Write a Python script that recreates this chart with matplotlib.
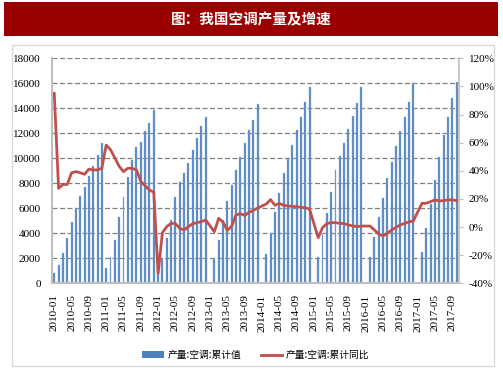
import numpy as np
import pandas as pd
import matplotlib
matplotlib.use('Agg')
from matplotlib import pyplot as plt
from matplotlib.patches import Rectangle, Patch
from matplotlib.lines import Line2D

nan = np.nan

# monthly categories 2010-01 .. 2017-10
months = [p.strftime('%Y-%m') for p in pd.period_range('2010-01', '2017-10', freq='M')]

# 产量:空调:累计值 (万台), January not published from 2013 on
output_2010 = [800, 1500, 2400, 3600, 4900, 6000, 7000, 7700, 8600, 9400, 10300, 11200]
output_2011 = [1200, 2100, 3500, 5300, 6900, 8500, 9850, 10900, 11300, 12150, 12850, 13900]
output_2012 = [850, 2000, 3600, 5100, 6900, 8100, 8850, 9650, 10700, 11600, 12600, 13300]
output_2013 = [nan, 2000, 3500, 5070, 6620, 7860, 9060, 10080, 11200, 12260, 13030, 14330]
output_2014 = [nan, 2340, 4000, 5730, 7200, 8850, 10000, 11060, 12260, 13330, 14480, 15680]
output_2015 = [nan, 2080, 3920, 5650, 7300, 9070, 10200, 11200, 12380, 13350, 14450, 15670]
output_2016 = [nan, 2130, 3730, 5330, 6800, 8400, 9730, 10980, 12180, 13300, 14480, 16050]
output_2017 = [nan, 2500, 4450, 6340, 8260, 10130, 11860, 13330, 14800, 16100]

# 产量:空调:累计同比 (%)
yoy_2010 = [95, 27.5, 30.3, 30.3, 38.6, 39.4, 38.6, 37.5, 41.2, 40.6, 40.6, 41.8]
yoy_2011 = [58.3, 55, 49.2, 43.2, 39.4, 41.8, 41.8, 40.6, 32.5, 29.3, 26.3, 24.8]
yoy_2012 = [-33, -4, 0.3, 2.7, 2.4, -0.9, -2.1, 0.3, 2.4, 3.1, 3.8, 5]
yoy_2013 = [nan, -3.3, 6.2, 3.5, -2.3, 0.5, 8.6, 9.5, 8.3, 10.3, 11.8, 13.5]
yoy_2014 = [nan, 16.4, 19.5, 15.5, 16.8, 15.5, 15, 14.7, 14.5, 14, 13.8, 12.8]
yoy_2015 = [nan, -7.6, -0.5, 2.5, 3.1, 3.1, 2.7, 2.4, 1.5, 0.8, 0.3, 0.7]
yoy_2016 = [nan, 0.7, -2.1, -5, -6.3, -4.4, -2.1, -0.2, 1.5, 2.7, 3.6, 4.5]
yoy_2017 = [nan, 16.9, 16.9, 18.1, 19.3, 18.6, 18.8, 19.3, 19.3, 18.8]

output = np.array(output_2010 + output_2011 + output_2012 + output_2013 +
                  output_2014 + output_2015 + output_2016 + output_2017, dtype=float)
yoy = np.array(yoy_2010 + yoy_2011 + yoy_2012 + yoy_2013 +
               yoy_2014 + yoy_2015 + yoy_2016 + yoy_2017, dtype=float)

bar_color = '#4F81BD'
line_color = '#C0504D'
serif = 'Liberation Serif'
cjk = ['Noto Sans CJK SC', 'DejaVu Sans']

W, H = 503, 378
fig = plt.figure(figsize=(W / 100, H / 100), dpi=100)

# title banner and chart frame (behind the axes)
fig.patches.append(Rectangle((4 / W, 1 - 36 / H), 494 / W, 34 / H, transform=fig.transFigure,
                             facecolor='#9A0000', edgecolor='none', zorder=-2))
fig.patches.append(Rectangle((12 / W, 1 - 366 / H), 482 / W, 321 / H, transform=fig.transFigure,
                             facecolor='none', edgecolor='#d9d9d9', linewidth=1, zorder=-2))
fig.text(251.5 / W, 1 - 19.5 / H, '图：我国空调产量及增速', color='white', fontsize=10.5,
         fontweight='bold', family=cjk, ha='center', va='center')

left, right, top, bottom = 52.1, 458.8, 58.3, 283.3
ax = fig.add_axes([left / W, 1 - bottom / H, (right - left) / W, (bottom - top) / H])
ax.patch.set_alpha(0)
x = np.arange(len(months))
ax.bar(x, output, width=0.45, color=bar_color, edgecolor='#9dbbe0', linewidth=0.3, zorder=2)
ax.set_xlim(-0.5, len(months) - 0.5)
ax.set_ylim(0, 18000)
ax.set_yticks(np.arange(0, 18001, 2000))
ax.yaxis.grid(True, linestyle=(0, (4, 2)), color='#808080', linewidth=0.9, zorder=0)
ax.set_axisbelow(True)
ax.set_xticks(x[::4])
ax.set_xticklabels(months[::4], rotation=90, fontsize=8, family=serif)
ax.tick_params(axis='x', length=0, pad=8)
ax.tick_params(axis='y', length=0, pad=8, labelsize=8)
for lab in ax.get_yticklabels():
    lab.set_family(serif)
for s in ['left', 'bottom']:
    ax.spines[s].set_color('#bfbfbf')
    ax.spines[s].set_linewidth(1.5)
ax.spines['top'].set_visible(False)
ax.spines['right'].set_visible(False)

ax2 = ax.twinx()
ok = ~np.isnan(yoy)
ax2.plot(x[ok], yoy[ok], color=line_color, linewidth=2, zorder=3)
ax2.set_ylim(-40, 120)
ax2.set_yticks(np.arange(-40, 121, 20))
ax2.set_yticklabels([f'{v}%' for v in range(-40, 121, 20)], fontsize=8, family=serif)
ax2.tick_params(axis='y', length=3, color='#bfbfbf', pad=4)
ax2.spines['right'].set_color('#bfbfbf')
ax2.spines['right'].set_linewidth(1.2)
for s in ['top', 'left', 'bottom']:
    ax2.spines[s].set_visible(False)

handles = [Patch(facecolor=bar_color, edgecolor='none'),
           Line2D([0], [0], color=line_color, linewidth=2)]
fig.legend(handles, ['产量:空调:累计值', '产量:空调:累计同比'], loc='center',
           bbox_to_anchor=(256 / W, 1 - 355 / H), ncol=2, frameon=False,
           prop={'family': cjk, 'size': 7}, handlelength=2.2, handleheight=0.6,
           columnspacing=2.0, handletextpad=0.4)

fig.savefig('out.png', dpi=100)
